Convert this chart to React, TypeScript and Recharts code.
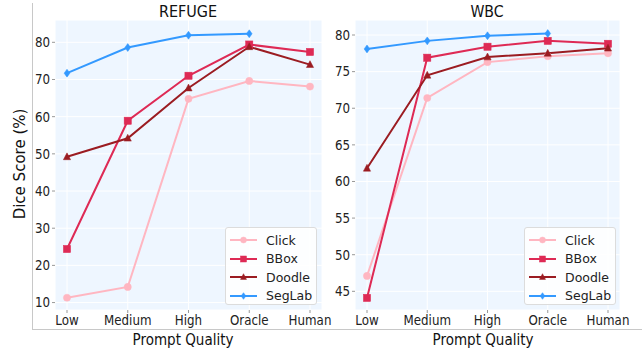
import React from 'react';
import { LineChart, Line, XAxis, YAxis, CartesianGrid } from 'recharts';

const categories = ['Low', 'Medium', 'High', 'Oracle', 'Human'];
const seriesNames = ['Click', 'BBox', 'Doodle', 'SegLab'];

const refugeClick = [11.3, 14.2, 64.8, 69.6, 68.1];
const refugeBBox = [24.4, 58.9, 71.0, 79.4, 77.4];
const refugeDoodle = [49.2, 54.2, 67.7, 78.8, 74.0];
const refugeSegLab = [71.7, 78.6, 81.9, 82.3, null];

const wbcClick = [47.1, 71.4, 76.3, 77.1, 77.5];
const wbcBBox = [44.1, 76.9, 78.4, 79.2, 78.8];
const wbcDoodle = [61.8, 74.5, 77.0, 77.5, 78.2];
const wbcSegLab = [78.1, 79.2, 79.9, 80.2, null];

const refugeTicks = [10, 20, 30, 40, 50, 60, 70, 80];
const wbcTicks = [45, 50, 55, 60, 65, 70, 75, 80];

const COLORS: Record<string, string> = {
  Click: '#FFB6C1',
  BBox: '#DE2A55',
  Doodle: '#9B1C22',
  SegLab: '#3399FF',
};
const SHAPES: Record<string, string> = {
  Click: 'circle',
  BBox: 'square',
  Doodle: 'triangle',
  SegLab: 'diamond',
};

const FONT = 'DejaVu Sans, sans-serif';
const TICK_FS = 13.5;
const TICK_SX = 0.88;

function buildData(click: (number | null)[], bbox: (number | null)[], doodle: (number | null)[], seglab: (number | null)[]) {
  return categories.map((c, i) => ({
    name: c,
    Click: click[i],
    BBox: bbox[i],
    Doodle: doodle[i],
    SegLab: seglab[i],
  }));
}

const refugeData = buildData(refugeClick, refugeBBox, refugeDoodle, refugeSegLab);
const wbcData = buildData(wbcClick, wbcBBox, wbcDoodle, wbcSegLab);

function Marker({ cx, cy, shape, color, s = 3.6 }: any) {
  if (cx == null || cy == null || isNaN(cx) || isNaN(cy)) return null;
  if (shape === 'circle') return <circle cx={cx} cy={cy} r={s} fill={color} stroke={color} strokeWidth={0.5} />;
  if (shape === 'square')
    return <rect x={cx - s} y={cy - s} width={2 * s} height={2 * s} fill={color} stroke={color} strokeWidth={0.5} />;
  if (shape === 'triangle')
    return (
      <polygon
        points={`${cx},${cy - s * 1.1} ${cx - s},${cy + s * 0.8} ${cx + s},${cy + s * 0.8}`}
        fill={color}
        stroke={color}
        strokeWidth={0.5}
      />
    );
  return (
    <polygon
      points={`${cx},${cy - s * 1.1} ${cx + s * 0.8},${cy} ${cx},${cy + s * 1.1} ${cx - s * 0.8},${cy}`}
      fill={color}
      stroke={color}
      strokeWidth={0.5}
    />
  );
}

function XTick({ x, y, payload }: any) {
  return (
    <g transform={`translate(${x},${y})`}>
      <text transform={`scale(${TICK_SX},1)`} x={0} y={0} dy="0.74em" textAnchor="middle" fontSize={TICK_FS} fill="#222" fontFamily={FONT}>
        {payload.value}
      </text>
    </g>
  );
}

function YTick({ x, y, payload }: any) {
  return (
    <g transform={`translate(${x},${y})`}>
      <text transform={`scale(${TICK_SX},1)`} x={0} y={0} dy="0.36em" textAnchor="end" fontSize={TICK_FS} fill="#222" fontFamily={FONT}>
        {payload.value}
      </text>
    </g>
  );
}

function LegendBox({ left, top }: { left: number; top: number }) {
  return (
    <div
      style={{
        position: 'absolute',
        left,
        top,
        width: 92,
        height: 78,
        boxSizing: 'border-box',
        background: 'rgba(255,255,255,0.85)',
        border: '1px solid #dcdcdc',
        borderRadius: 3,
        padding: '3px 0 0 3px',
        fontFamily: FONT,
        fontSize: 12.5,
        color: '#222',
      }}
    >
      {seriesNames.map((n) => (
        <div key={n} style={{ display: 'flex', alignItems: 'center', height: 18.5 }}>
          <svg width={29} height={12} style={{ marginRight: 8 }}>
            <line x1={1} y1={6} x2={28} y2={6} stroke={COLORS[n]} strokeWidth={2} />
            <Marker cx={14.5} cy={6} shape={SHAPES[n]} color={COLORS[n]} s={3} />
          </svg>
          <span>{n}</span>
        </div>
      ))}
    </div>
  );
}

function Panel({ data, domain, ticks, right, width }: any) {
  return (
    <LineChart width={width} height={353} data={data} margin={{ top: 20, right, left: 0, bottom: 13 }}>
      <CartesianGrid fill="#EEF6FF" stroke="#ffffff" strokeWidth={1} />
      <XAxis
        dataKey="name"
        scale="point"
        padding={{ left: 12, right: 12 }}
        axisLine={false}
        tickLine={{ stroke: '#999' }}
        tickSize={3}
        tickMargin={2}
        height={30}
        tick={<XTick />}
        interval={0}
      />
      <YAxis
        type="number"
        domain={domain}
        ticks={ticks}
        allowDataOverflow
        axisLine={false}
        tickLine={{ stroke: '#999' }}
        tickSize={3}
        tickMargin={2}
        width={55}
        tick={<YTick />}
      />
      {seriesNames.map((n) => (
        <Line
          key={n}
          type="linear"
          dataKey={n}
          stroke={COLORS[n]}
          strokeWidth={2}
          isAnimationActive={false}
          connectNulls={false}
          dot={(p: any) => <Marker key={`${n}-${p.index}`} cx={p.cx} cy={p.cy} shape={SHAPES[n]} color={COLORS[n]} />}
          activeDot={false}
        />
      ))}
    </LineChart>
  );
}

const textStyle: React.CSSProperties = {
  position: 'absolute',
  fontFamily: FONT,
  fontSize: 15,
  color: '#111',
  whiteSpace: 'nowrap',
  lineHeight: '16px',
};

export default function App() {
  return (
    <div style={{ position: 'absolute', left: 0, top: 0, width: 642, height: 353, background: '#fff', overflow: 'hidden' }}>
      <div style={{ position: 'absolute', left: 32, top: 3, width: 1, height: 326, background: '#c8c8c8' }} />
      <div style={{ position: 'absolute', left: 32, top: 329, width: 610, height: 1, background: '#c8c8c8' }} />
      <div style={{ position: 'absolute', left: 0, top: 0 }}>
        <Panel data={refugeData} domain={[8, 86]} ticks={refugeTicks} right={23} width={345} />
      </div>
      <div style={{ position: 'absolute', left: 300, top: 0 }}>
        <Panel data={wbcData} domain={[42.45, 82.05]} ticks={wbcTicks} right={22} width={342} />
      </div>
      <LegendBox left={225} top={227} />
      <LegendBox left={524} top={227} />
      <div style={{ ...textStyle, left: 188, top: 4, transform: 'translateX(-50%) scaleX(0.96)' }}>REFUGE</div>
      <div style={{ ...textStyle, left: 487, top: 4, transform: 'translateX(-50%) scaleX(0.94)' }}>WBC</div>
      <div style={{ ...textStyle, left: 183, top: 332, transform: 'translateX(-50%) scaleX(0.9)' }}>Prompt Quality</div>
      <div style={{ ...textStyle, left: 483, top: 332, transform: 'translateX(-50%) scaleX(0.9)' }}>Prompt Quality</div>
      <div
        style={{
          ...textStyle,
          left: 20,
          top: 164,
          transform: 'translate(-50%, -50%) rotate(-90deg)',
        }}
      >
        Dice Score (%)
      </div>
    </div>
  );
}
